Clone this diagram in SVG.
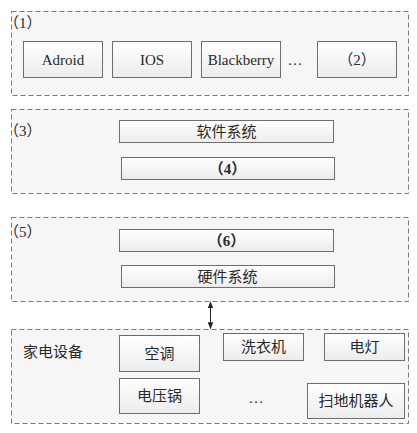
<svg xmlns="http://www.w3.org/2000/svg" width="417" height="433" viewBox="0 0 417 433">
<defs>
<linearGradient id="g" x1="0" y1="0" x2="0" y2="1">
<stop offset="0" stop-color="#ffffff"/>
<stop offset="1" stop-color="#ececec"/>
</linearGradient>
<marker id="ah" viewBox="0 0 10 10" refX="9" refY="5" markerWidth="7" markerHeight="7" orient="auto-start-reverse" markerUnits="userSpaceOnUse">
<path d="M0,1 L10,5 L0,9 z" fill="#222"/>
</marker>
</defs>
<style>
.grp{fill:#f6f6f6;stroke:#7a7a7a;stroke-width:1;stroke-dasharray:5 3}
.box{fill:url(#g);stroke:#6e6e6e;stroke-width:1}
text{font-family:"Liberation Serif","Noto Sans CJK SC",serif;font-size:15px;fill:#2a2a2a;dominant-baseline:central}
.c{text-anchor:middle}
.b{font-weight:bold}
.conn{stroke:#222;stroke-width:1;fill:none}
</style>
<rect width="417" height="433" fill="#ffffff"/>

<g id="layer1">
<rect class="grp" x="11.5" y="11.5" width="397" height="84"/>
<text x="4" y="23">（1）</text>
</g>
<g id="adroid"><rect class="box" x="23.5" y="41.5" width="79" height="36"/><text class="c" x="63" y="59.5">Adroid</text></g>
<g id="ios"><rect class="box" x="112.5" y="41.5" width="79" height="36"/><text class="c" x="152" y="59.5">IOS</text></g>
<g id="blackberry"><rect class="box" x="201.5" y="41.5" width="79" height="36"/><text class="c" x="241" y="59.5">Blackberry</text></g>
<g id="dots1"><text class="c" x="295" y="59.5">…</text></g>
<g id="n2"><rect class="box" x="317.5" y="41.5" width="79" height="36"/><text class="c" x="357" y="59.5">（2）</text></g>

<g id="layer3">
<rect class="grp" x="11.5" y="109.5" width="397" height="84"/>
<text x="4" y="131">（3）</text>
</g>
<g id="software"><rect class="box" x="119.5" y="120.5" width="214" height="22"/><text class="c" x="226.5" y="131.5">软件系统</text></g>
<g id="n4"><rect class="box" x="121.5" y="157.5" width="213" height="22"/><text class="c b" x="227.5" y="168.5">（4）</text></g>

<g id="layer5">
<rect class="grp" x="11.5" y="217.5" width="397" height="84"/>
<text x="4" y="232">（5）</text>
</g>
<g id="n6"><rect class="box" x="119.5" y="229.5" width="214" height="22"/><text class="c b" x="226.5" y="240.5">（6）</text></g>
<g id="hardware"><rect class="box" x="121.5" y="265.5" width="213" height="22"/><text class="c" x="227.5" y="276.5">硬件系统</text></g>

<g id="connectors">
<line class="conn" x1="210.5" y1="302" x2="210.5" y2="328.5" marker-start="url(#ah)" marker-end="url(#ah)"/>
</g>

<g id="home">
<rect class="grp" x="11.5" y="329.5" width="397" height="94"/>
<text x="23" y="352">家电设备</text>
</g>
<g id="ac"><rect class="box" x="119.5" y="335.5" width="80" height="36"/><text class="c" x="159.5" y="353.5">空调</text></g>
<g id="washer"><rect class="box" x="223.5" y="333.5" width="80" height="27"/><text class="c" x="263.5" y="347">洗衣机</text></g>
<g id="light"><rect class="box" x="324.5" y="333.5" width="80" height="27"/><text class="c" x="364.5" y="347">电灯</text></g>
<g id="cooker"><rect class="box" x="119.5" y="378.5" width="80" height="35"/><text class="c" x="159.5" y="396">电压锅</text></g>
<g id="dots2"><text class="c" x="256" y="398">…</text></g>
<g id="robot"><rect class="box" x="307.5" y="383.5" width="97" height="35"/><text class="c" x="356" y="401">扫地机器人</text></g>
</svg>
